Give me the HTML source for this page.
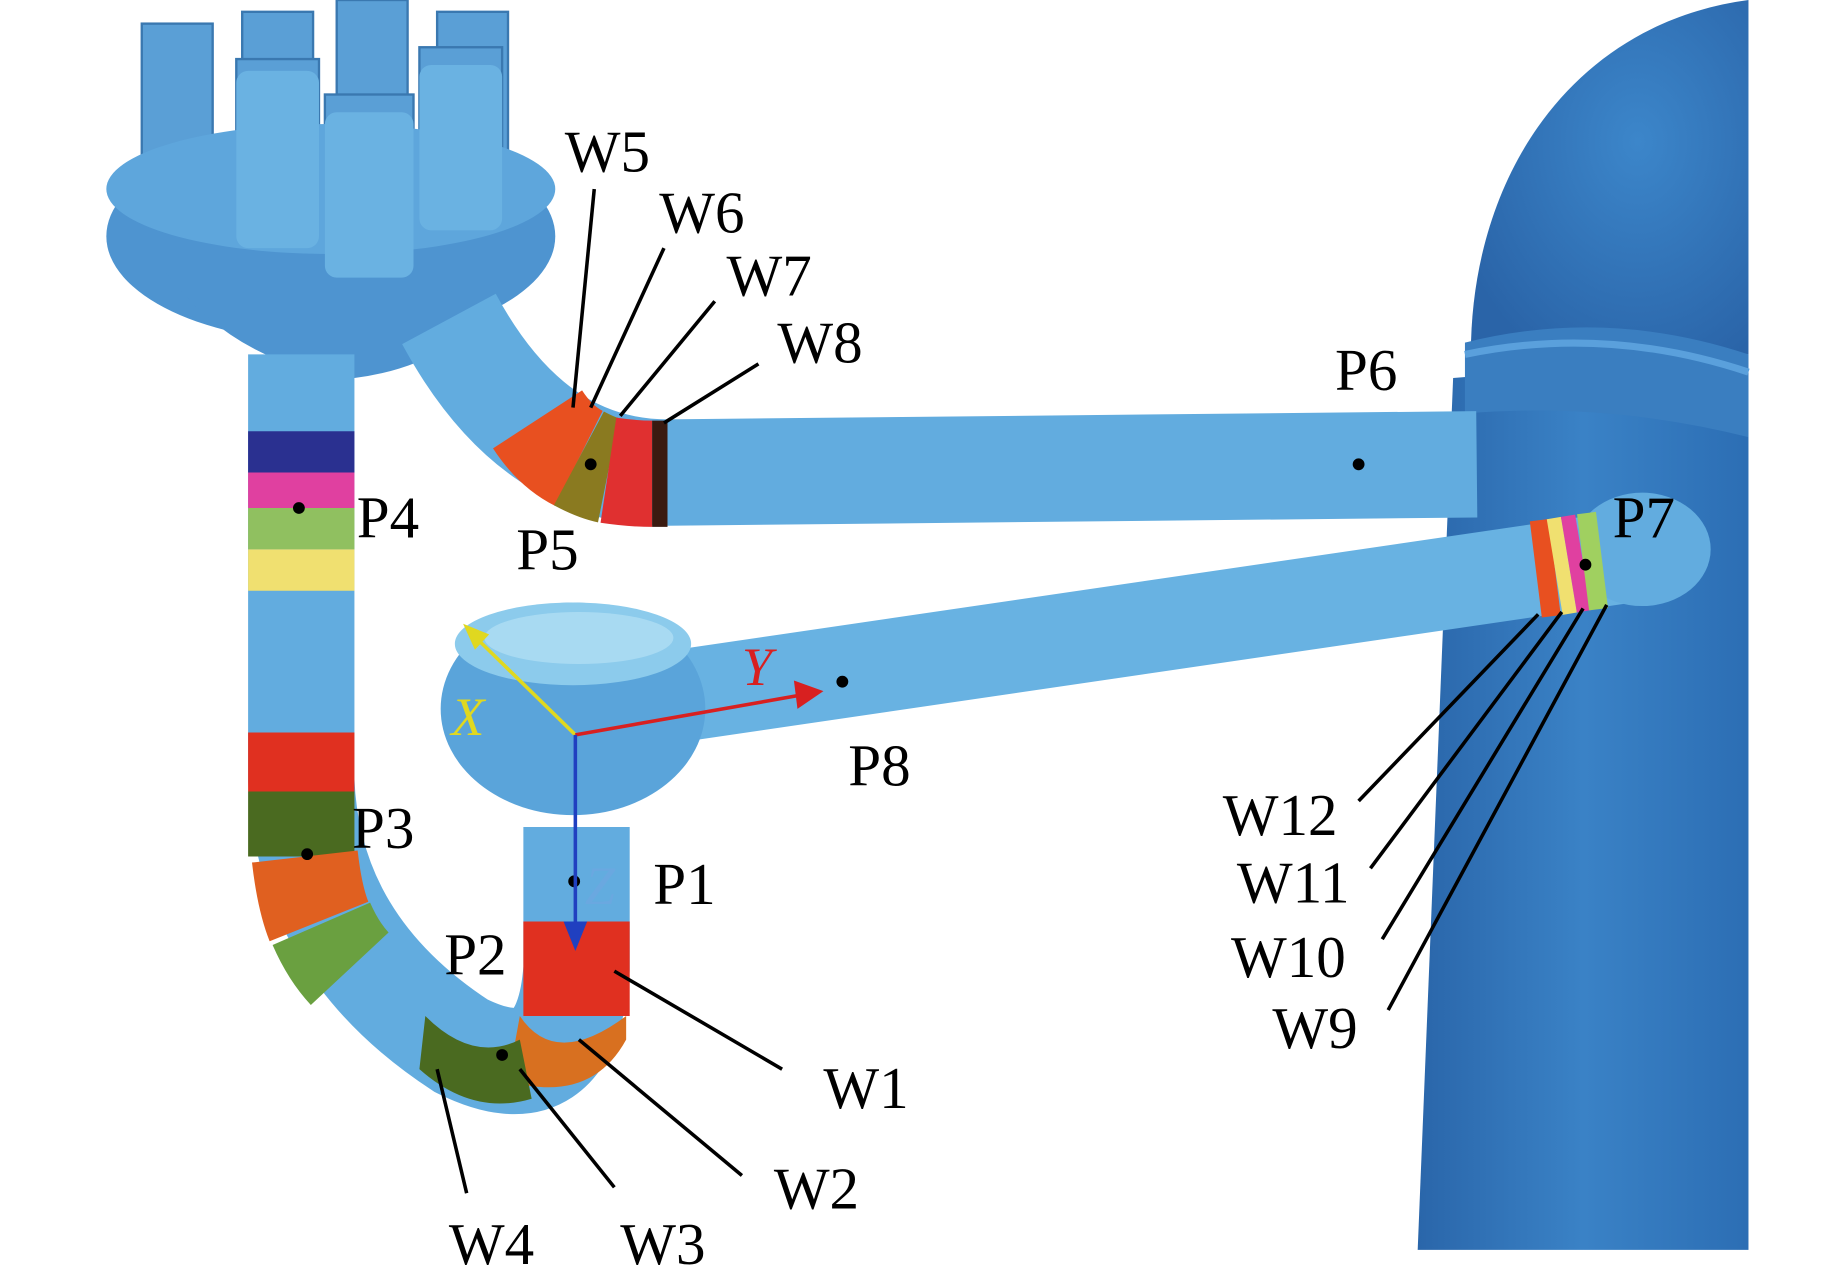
<!DOCTYPE html>
<html><head><meta charset="utf-8"><style>html,body{margin:0;padding:0;background:#fff}svg{display:block}</style></head>
<body>
<svg width="1843" height="1270" viewBox="0 0 1560 1075" xmlns="http://www.w3.org/2000/svg" font-family="'Liberation Serif',serif">
<defs>
<linearGradient id="vs" x1="0" x2="1"><stop offset="0" stop-color="#2a66aa"/><stop offset="0.5" stop-color="#3a82c6"/><stop offset="1" stop-color="#2c6eb4"/></linearGradient>
<radialGradient id="dome" cx="0.6" cy="0.4" r="0.7"><stop offset="0" stop-color="#3c86ca"/><stop offset="1" stop-color="#2a64a8"/></radialGradient>
</defs>
<rect width="1560" height="1075" fill="#fff"/>
<path d="M1200,1058 L1230,320 L1480,300 L1480,1058 Z" fill="url(#vs)"/>
<path d="M1245,300 C1245,150 1330,20 1480,0 L1480,300 Z" fill="url(#dome)"/>
<path d="M1240,290 Q1360,260 1480,300 L1480,370 Q1360,340 1240,350 Z" fill="#3a7ec0"/>
<path d="M1240,300 Q1360,275 1480,315" stroke="#5aa0dc" stroke-width="6" fill="none"/>
<g fill="#5a9fd6" stroke="#3a78b0" stroke-width="2">
<rect x="120" y="20" width="60" height="150"/><rect x="205" y="10" width="60" height="170"/><rect x="285" y="0" width="60" height="160"/><rect x="370" y="10" width="60" height="150"/>
<rect x="200" y="50" width="70" height="170"/><rect x="275" y="80" width="75" height="150"/><rect x="355" y="40" width="70" height="160"/>
</g>
<ellipse cx="280" cy="200" rx="190" ry="90" fill="#4e94d0"/>
<ellipse cx="280" cy="160" rx="190" ry="55" fill="#5ea6dc"/>
<g fill="#6ab2e2"><rect x="200" y="60" width="70" height="150" rx="10"/><rect x="275" y="95" width="75" height="140" rx="10"/><rect x="355" y="55" width="70" height="140" rx="10"/></g>
<path d="M140,230 Q200,310 300,320 Q380,310 430,250" fill="#4e94d0"/>
<g fill="none" stroke-linecap="butt">
<path d="M380,270 Q450,400 565,400 L1250,393" stroke="#62acdf" stroke-width="90"/>
<path d="M255,300 V660 Q260,800 390,885 Q480,930 488,820 V700" stroke="#62acdf" stroke-width="90"/>
<path d="M500,600 L1400,468" stroke="#68b2e2" stroke-width="78"/>
</g>
<ellipse cx="1390" cy="465" rx="58" ry="48" fill="#62acdf"/>
<ellipse cx="485" cy="600" rx="112" ry="90" fill="#5aa4da"/>
<ellipse cx="485" cy="545" rx="100" ry="35" fill="#8ccbec"/>
<ellipse cx="490" cy="540" rx="80" ry="22" fill="#a8daf2"/>
<g stroke-width="90" fill="none">
<path d="M255,365 V400" stroke="#2a3090"/><path d="M255,400 V430" stroke="#e040a0"/><path d="M255,430 V465" stroke="#90c060"/><path d="M255,465 V500" stroke="#f0e070"/>
<path d="M255,620 V670" stroke="#e03020"/><path d="M255,670 V725" stroke="#4a6a20"/><path d="M258,725 Q262,760 270,780" stroke="#e06020"/><path d="M272,782 Q282,805 296,820" stroke="#6aa040"/>
<path d="M488,780 V860" stroke="#e03020"/>
</g>
<path d="M440,860 Q470,905 530,860 L530,880 Q500,935 430,915 Z" fill="#d87020"/>
<path d="M360,860 Q400,900 440,880 L450,930 Q400,945 355,905 Z" fill="#4a6a20"/>
<g stroke-width="90" fill="none">
<path d="M455,355 Q470,378 490,388" stroke="#e85020"/><path d="M490,388 Q505,396 515,398" stroke="#8a7a20"/><path d="M515,398 Q535,401 552,401" stroke="#e03030"/><path d="M552,401 L565,401" stroke="#3a1a10"/>
</g>
<g stroke-width="82" fill="none">
<path d="M1300,482 L1316,480" stroke="#e85020"/><path d="M1316,480 L1328,478" stroke="#f0e070"/><path d="M1328,478 L1340,476" stroke="#e040a0"/><path d="M1340,476 L1356,474" stroke="#a0d060"/>
</g>
<g fill="#000"><circle cx="253" cy="430" r="5"/><circle cx="500" cy="393" r="5"/><circle cx="1150" cy="393" r="5"/><circle cx="1342" cy="478" r="5"/><circle cx="713" cy="577" r="5"/><circle cx="260" cy="723" r="5"/><circle cx="486" cy="746" r="5"/><circle cx="425" cy="893" r="5"/></g>
<g stroke-width="3" fill="none">
<line x1="487" y1="622" x2="400" y2="537" stroke="#e0d820"/><line x1="487" y1="622" x2="680" y2="588" stroke="#d82020"/><line x1="487" y1="622" x2="487" y2="785" stroke="#2040c0"/>
</g>
<polygon points="392,528 414,537 402,550" fill="#e0d820"/>
<polygon points="697,585 672,576 675,600" fill="#d82020"/>
<polygon points="487,805 477,780 497,780" fill="#2040c0"/>
<g font-style="italic" font-size="46"><text x="382" y="622" fill="#e0d820">X</text><text x="628" y="580" fill="#d82020">Y</text><text x="495" y="765" fill="#6aa8e0">Z</text></g>
<g stroke="#000" stroke-width="3">
<line x1="503" y1="160" x2="485" y2="345"/><line x1="562" y1="210" x2="500" y2="345"/><line x1="605" y1="255" x2="525" y2="352"/><line x1="642" y1="308" x2="562" y2="358"/>
<line x1="520" y1="822" x2="662" y2="905"/><line x1="490" y1="880" x2="628" y2="995"/><line x1="440" y1="905" x2="520" y2="1005"/><line x1="370" y1="905" x2="395" y2="1010"/>
<line x1="1150" y1="678" x2="1302" y2="520"/><line x1="1160" y1="735" x2="1322" y2="518"/><line x1="1170" y1="795" x2="1340" y2="515"/><line x1="1175" y1="855" x2="1360" y2="512"/>
</g>
<g font-size="50" fill="#000">
<text x="478" y="145">W5</text><text x="558" y="197">W6</text><text x="615" y="250">W7</text><text x="658" y="307">W8</text>
<text x="1130" y="330">P6</text><text x="302" y="455">P4</text><text x="437" y="482">P5</text><text x="1365" y="455">P7</text>
<text x="718" y="665">P8</text><text x="298" y="718">P3</text><text x="553" y="765">P1</text><text x="376" y="825">P2</text>
<text x="697" y="938">W1</text><text x="655" y="1023">W2</text><text x="525" y="1070">W3</text><text x="380" y="1070">W4</text>
<text x="1035" y="707">W12</text><text x="1047" y="764">W11</text><text x="1042" y="827">W10</text><text x="1077" y="887">W9</text>
</g>
</svg>
</body></html>
